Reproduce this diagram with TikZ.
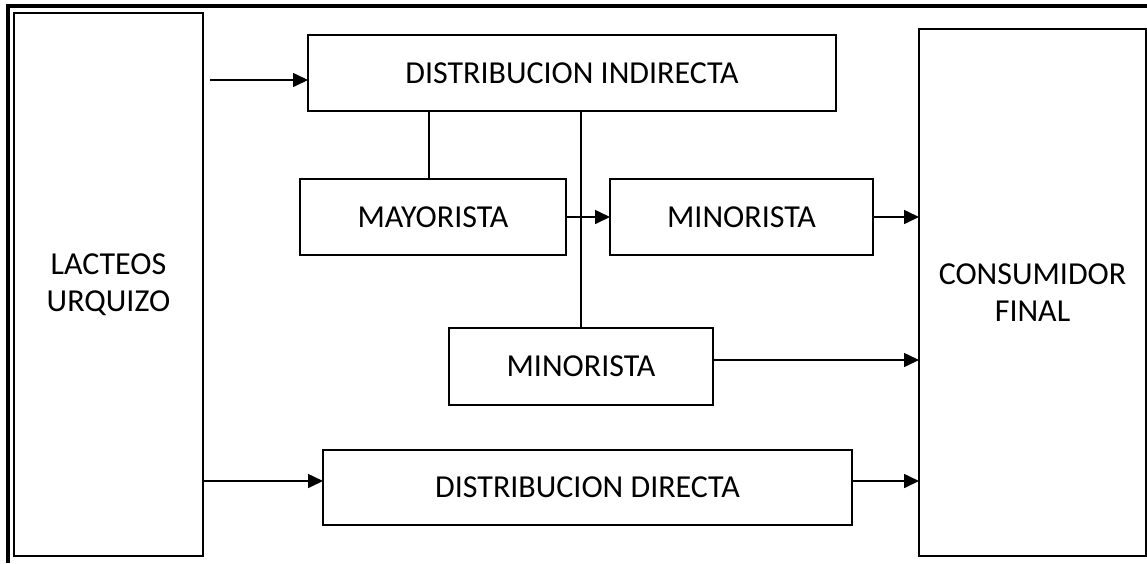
\documentclass[tikz,border=0pt]{standalone}
\usepackage{fontspec}
\setmainfont{Carlito}
\usetikzlibrary{positioning}
\usetikzlibrary{arrows.meta}

\begin{document}
\begin{tikzpicture}[x=1pt, y=-1pt,
	nosep/.style={inner sep=0pt, outer sep=0pt},
	box/.style={rectangle, draw=black, line width=1.6pt, fill=white, nosep, align=center,
		font=\fontsize{32}{37.5}\selectfont},
	line/.style={draw=black, line width=1.6pt},
	arrow/.style={line width=1.6pt, black, -{Triangle[length=15pt, width=14pt]}}
]

\useasboundingbox (0,0) rectangle (1147,563);

% Outer frame (only top and left are visible)
\draw[line width=4pt, black] (7.5,563) -- (7.5,6) -- (1147,6);

% Boxes
\node[box, minimum width=189pt, minimum height=543pt] (lacteos) at (108.5,284.5) {LACTEOS\\URQUIZO};
\node[box, minimum width=528pt, minimum height=76pt] (indirecta) at (572,73) {DISTRIBUCION INDIRECTA};
\node[box, minimum width=266pt, minimum height=76pt] (mayorista) at (433,217) {MAYORISTA};
\node[box, minimum width=263pt, minimum height=76pt] (minoristaA) at (741.5,217) {MINORISTA};
\node[box, minimum width=264pt, minimum height=77pt] (minoristaB) at (581,366.5) {MINORISTA};
\node[box, minimum width=529pt, minimum height=75pt] (directa) at (587.5,487.5) {DISTRIBUCION DIRECTA};
\node[box, minimum width=227pt, minimum height=527pt] (consumidor) at (1032.5,292.5) {CONSUMIDOR\\FINAL};

% Free ends of connectors
\coordinate (inA) at (210,80);
\coordinate (inB) at (lacteos.east |- 0,481);
\coordinate (outB) at (minoristaB.east |- 0,360);
\coordinate (outC) at (directa.east |- 0,481);

% Vertical links (thin)
\draw[line] (indirecta.south -| 429,0) -- (mayorista.north -| 429,0);
\draw[line] (indirecta.south -| minoristaB) -- (minoristaB.north);

% Arrows
\draw[arrow] (inA) -- (inA -| indirecta.west);
\draw[arrow] (inB) -- (inB -| directa.west);
\draw[arrow] (mayorista.east) -- (minoristaA.west);
\draw[arrow] (minoristaA.east) -- (minoristaA.east -| consumidor.west);
\draw[arrow] (outB) -- (outB -| consumidor.west);
\draw[arrow] (outC) -- (outC -| consumidor.west);

\end{tikzpicture}
\end{document}
